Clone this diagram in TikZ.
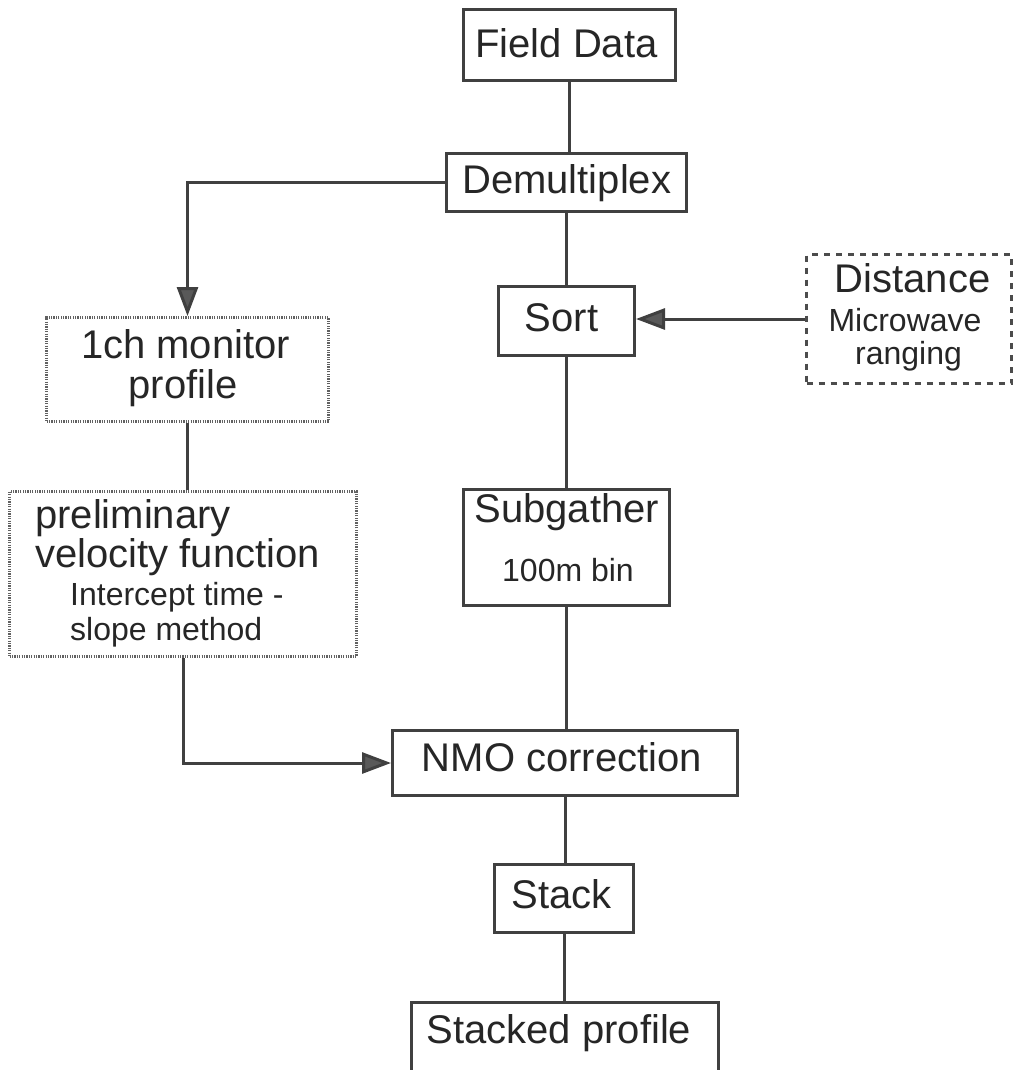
\documentclass[tikz,border=0pt]{standalone}
\usepackage{fontspec}
\setmainfont{Liberation Sans}
\usetikzlibrary{arrows.meta,calc}
\tikzset{
  box/.style={draw=black!75, line width=3pt, inner sep=0pt, fill=white},
  mbox/.style={draw=black!62, line width=3pt, dash pattern=on 1.2pt off 1.2pt,
    preaction={draw=black!30, line width=3pt}, inner sep=0pt},
  dbox/.style={draw=black!70, line width=2.5pt, dash pattern=on 6pt off 6pt, inner sep=0pt},
  big/.style={font=\fontsize{40}{44}\selectfont, inner sep=0pt, text=black!85},
  small/.style={font=\fontsize{32}{36}\selectfont, inner sep=0pt, text=black!85},
  conn/.style={draw=black!75, line width=3pt},
  arr/.style={conn, -{Triangle[length=29pt,width=21pt,fill=black!65]}}
}
\begin{document}
\begin{tikzpicture}[x=1pt,y=-1pt]
\useasboundingbox (0,0) rectangle (1016,1070);
% boxes
\node[box, minimum width=212pt, minimum height=71pt] (fd) at (569.5,45) {};
\node[box, minimum width=240pt, minimum height=58pt] (dm) at (566.5,182.5) {};
\node[box, minimum width=136pt, minimum height=69pt] (so) at (566.5,321) {};
\node[box, minimum width=206pt, minimum height=116pt] (sg) at (566.5,547.5) {};
\node[box, minimum width=345pt, minimum height=65pt] (nmo) at (565,763) {};
\node[box, minimum width=139pt, minimum height=68pt] (st) at (564,898.5) {};
\node[box, minimum width=307pt, minimum height=87pt] (sp) at (565,1046) {};
\node[mbox, minimum width=282pt, minimum height=104pt] (mon) at (187.5,369.5) {};
\node[mbox, minimum width=347pt, minimum height=165pt] (pre) at (183,574) {};
\node[dbox, minimum width=205pt, minimum height=129pt] (dist) at (909,319) {};
% texts
\node[big, anchor=base] (fdt) at (566.5,58) {Field Data};
\node[big, anchor=base] (dmt) at (566.7,193) {Demultiplex};
\node[big, anchor=base] (sot) at (561.5,331) {Sort};
\node[big, anchor=base] (sgt1) at (566.7,522) {Subgather};
\node[small, anchor=base] (sgt2) at (568,581) {100m bin};
\node[big, anchor=base] (nmot) at (562,771.7) {NMO correction};
\node[big, anchor=base] (stt) at (561.7,908) {Stack};
\node[big, anchor=base] (spt) at (559,1043) {Stacked profile};
\node[big, anchor=base] (mont1) at (185.5,358) {1ch monitor};
\node[big, anchor=base] (mont2) at (183,398) {profile};
\node[big, anchor=base west] (pret1) at (35,528) {preliminary};
\node[big, anchor=base west] (pret2) at (35,567) {velocity function};
\node[small, anchor=base west] (pret3) at (70,605) {Intercept time -};
\node[small, anchor=base west] (pret4) at (70,640) {slope method};
\node[big, anchor=base] (distt1) at (912.5,292) {Distance};
\node[small, anchor=base] (distt2) at (905,331) {Microwave};
\node[small, anchor=base] (distt3) at (908.5,364) {ranging};
% connectors
\draw[conn] (fd.south) -- (fd.south |- dm.north);
\draw[conn] (dm.south) -- (dm.south |- so.north);
\draw[conn] (so.south) -- (so.south |- sg.north);
\draw[conn] (sg.south) -- (sg.south |- nmo.north);
\draw[conn] (nmo.south) -- (nmo.south |- st.north);
\draw[conn] (st.south) -- (st.south |- sp.north);
\draw[conn] (mon.south) -- (mon.south |- pre.north);
\draw[arr] (dm.west) -| (mon.north);
\draw[arr] (pre.south) |- (nmo.west);
\draw[arr] (dist.west) -- (dist.west -| so.east);
\end{tikzpicture}
\end{document}
